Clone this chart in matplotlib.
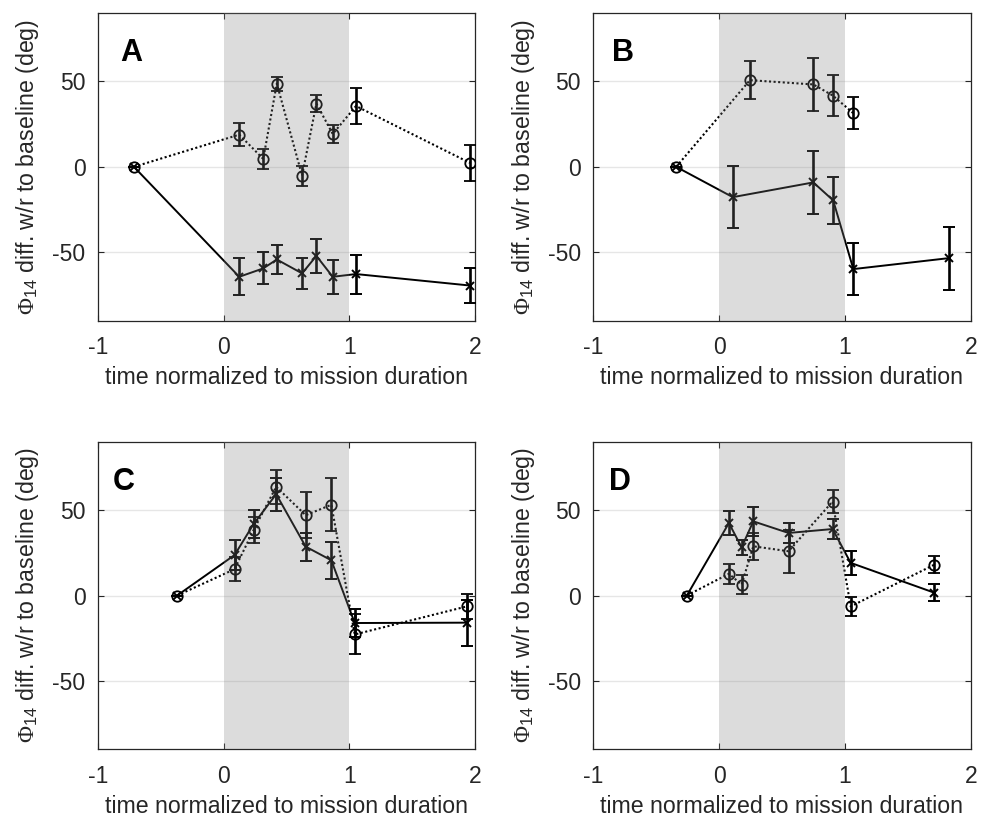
import matplotlib
matplotlib.use("Agg")
import matplotlib.pyplot as plt

plt.rcParams['font.family'] = ['Liberation Sans', 'DejaVu Sans']
plt.rcParams['mathtext.fontset'] = 'custom'
plt.rcParams['mathtext.rm'] = 'Liberation Serif'
plt.rcParams['mathtext.sf'] = 'Liberation Sans'
plt.rcParams['axes.unicode_minus'] = False

# ---- data ----
panel_labels = ['A', 'B', 'C', 'D']

tA_o = [-0.714, 0.124, 0.315, 0.423, 0.624, 0.738, 0.868, 1.053, 1.96]
yA_o = [0, 18.8, 4.6, 48.6, -5.1, 36.9, 19.2, 35.5, 2.3]
eA_o = [0, 6.6, 5.9, 4.1, 5.8, 5.0, 5.4, 10.6, 10.4]
tA_x = [-0.714, 0.124, 0.315, 0.423, 0.624, 0.738, 0.868, 1.053, 1.96]
yA_x = [0, -64.2, -59.3, -54.1, -62.2, -52.0, -64.2, -62.6, -69.3]
eA_x = [0, 10.8, 9.3, 8.3, 9.0, 10.0, 9.9, 11.4, 10.0]

tB_o = [-0.341, 0.245, 0.749, 0.904, 1.067]
yB_o = [0, 50.6, 48.1, 41.6, 31.3]
eB_o = [0, 11.2, 15.7, 11.9, 9.3]
tB_x = [-0.341, 0.109, 0.749, 0.907, 1.067, 1.827]
yB_x = [0, -17.7, -9.1, -19.6, -59.7, -53.3]
eB_x = [0, 17.9, 18.5, 13.7, 15.3, 18.4]

tC_o = [-0.370, 0.087, 0.238, 0.418, 0.653, 0.857, 1.043, 1.934]
yC_o = [0, 15.4, 38.3, 63.6, 47.0, 53.1, -22.8, -6.4]
eC_o = [0, 7.0, 7.8, 9.9, 13.5, 15.6, 11.7, 7.4]
tC_x = [-0.370, 0.087, 0.238, 0.418, 0.653, 0.857, 1.043, 1.934]
yC_x = [0, 23.7, 41.8, 59.3, 28.6, 20.6, -16.1, -15.9]
eC_x = [0, 8.8, 8.4, 9.7, 8.2, 11.0, 8.3, 13.5]

tD_o = [-0.256, 0.078, 0.179, 0.272, 0.552, 0.902, 1.046, 1.712]
yD_o = [0, 12.7, 6.4, 28.8, 25.9, 55.0, -6.4, 18.1]
eD_o = [0, 5.7, 5.8, 7.8, 12.7, 6.8, 5.8, 5.2]
tD_x = [-0.256, 0.078, 0.179, 0.272, 0.552, 0.902, 1.046, 1.712]
yD_x = [0, 42.4, 28.2, 43.4, 36.6, 38.9, 19.1, 1.6]
eD_x = [0, 7.2, 4.5, 8.5, 6.1, 6.1, 7.2, 5.0]

xticks = [-1, 0, 1, 2]
yticks = [-50, 0, 50]
xlabel = 'time normalized to mission duration'
ylabel = r'$\Phi_{\mathsf{14}}$ diff. w/r to baseline (deg)'

panels = [
    (tA_o, yA_o, eA_o, tA_x, yA_x, eA_x),
    (tB_o, yB_o, eB_o, tB_x, yB_x, eB_x),
    (tC_o, yC_o, eC_o, tC_x, yC_x, eC_x),
    (tD_o, yD_o, eD_o, tD_x, yD_x, eD_x),
]

# ---- layout ----
fig = plt.figure(figsize=(9.85, 8.18), dpi=100)
positions = [
    [0.0995, 0.6076, 0.3827, 0.3769],
    [0.6023, 0.6076, 0.3832, 0.3769],
    [0.0995, 0.0840, 0.3827, 0.3760],
    [0.6023, 0.0840, 0.3832, 0.3760],
]
label_x = [-0.82, -0.85, -0.88, -0.875]

axcol = '#262626'
for i, (pos, data) in enumerate(zip(positions, panels)):
    t_o, y_o, e_o, t_x, y_x, e_x = data
    ax = fig.add_axes(pos)
    ax.set_xlim(-1, 2)
    ax.set_ylim(-90, 90)
    ax.set_axisbelow(True)
    ax.grid(axis='y', color='#e6e6e6', lw=1.0)
    ax.grid(axis='x', visible=False)

    ax.errorbar(t_o, y_o, yerr=e_o, color='black', ls=(0, (1, 1.2)), lw=1.5,
                marker='o', ms=7.5, mfc='none', mec='black', mew=1.3,
                ecolor='black', elinewidth=1.9, capsize=4, capthick=1.9,
                zorder=3)
    ax.errorbar(t_x, y_x, yerr=e_x, color='black', ls='-', lw=1.4,
                marker='x', ms=6, mec='black', mew=1.4,
                ecolor='black', elinewidth=1.9, capsize=4, capthick=1.9,
                zorder=3)

    ax.axvspan(0, 1, facecolor=(0.5, 0.5, 0.5), alpha=0.27, lw=0, zorder=5)

    ax.text(label_x[i], 62, panel_labels[i], fontsize=22, fontweight='bold',
            ha='left', va='baseline', color='black', zorder=6)

    ax.set_xticks(xticks)
    ax.set_yticks(yticks)
    ax.tick_params(axis='both', direction='in', length=4, width=0.8,
                   top=True, right=True, labelsize=16.5, colors=axcol)
    ax.tick_params(axis='x', pad=11)
    ax.tick_params(axis='y', pad=9)
    for sp in ax.spines.values():
        sp.set_color(axcol)
        sp.set_linewidth(0.9)
    ax.set_xlabel(xlabel, fontsize=16.7, color=axcol, labelpad=5)
    ax.set_ylabel(ylabel, fontsize=16.7, color=axcol)
    ax.yaxis.set_label_coords(-0.15, 0.5)

fig.savefig('out.png', dpi=100)
